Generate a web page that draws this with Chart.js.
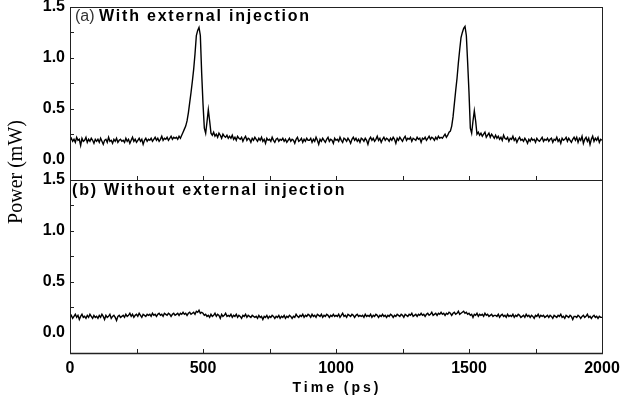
<!DOCTYPE html>
<html>
<head>
<meta charset="utf-8">
<script src="https://cdn.jsdelivr.net/npm/chart.js@4/dist/chart.umd.min.js"></script>
<style>
  html, body { margin: 0; padding: 0; background: #fff; }
  canvas { display: block; }
</style>
</head>
<body>
<canvas id="chart" width="629" height="397"></canvas>
<script>
// sampling grid of the traces (ps between samples, starting at 0 ps)
const timeStep = 5;

// (a) with external injection, mW
const powerA = [
  0.19,0.21,0.18,0.20,0.17,0.22,0.19,0.20,0.14,0.21,0.18,0.19,0.22,0.17,0.20,0.18,0.21,0.19,0.16,0.20,
  0.18,0.20,0.17,0.21,0.18,0.15,0.19,0.20,0.17,0.22,0.18,0.19,0.16,0.20,0.18,0.21,0.17,0.19,0.20,0.18,
  0.19,0.17,0.21,0.18,0.20,0.16,0.19,0.22,0.18,0.20,0.17,0.19,0.21,0.18,0.20,0.15,0.19,0.21,0.18,0.20,
  0.19,0.21,0.18,0.20,0.22,0.19,0.21,0.18,0.20,0.23,0.19,0.21,0.20,0.22,0.19,0.21,0.23,0.20,0.22,0.21,
  0.22,0.20,0.23,0.21,0.24,0.27,0.30,0.33,0.38,0.46,0.56,0.66,0.77,0.89,1.04,1.22,1.27,1.30,1.22,0.85,
  0.55,0.31,0.26,0.37,0.49,0.38,0.26,0.24,0.27,0.23,0.25,0.22,0.26,0.24,0.21,0.25,0.23,0.22,0.24,0.21,
  0.23,0.21,0.24,0.20,0.22,0.19,0.23,0.21,0.20,0.22,0.18,0.21,0.23,0.19,0.21,0.20,0.17,0.21,0.19,0.22,
  0.20,0.18,0.21,0.19,0.22,0.18,0.20,0.16,0.21,0.19,0.20,0.18,0.22,0.19,0.17,0.20,0.21,0.18,0.20,0.19,
  0.21,0.18,0.20,0.17,0.19,0.21,0.18,0.20,0.19,0.16,0.20,0.22,0.18,0.19,0.21,0.17,0.20,0.18,0.21,0.19,
  0.19,0.21,0.17,0.20,0.18,0.22,0.19,0.15,0.20,0.18,0.21,0.19,0.17,0.20,0.22,0.18,0.20,0.19,0.16,0.21,
  0.19,0.20,0.18,0.22,0.19,0.17,0.21,0.20,0.18,0.21,0.19,0.16,0.20,0.22,0.19,0.21,0.18,0.20,0.17,0.21,
  0.20,0.18,0.21,0.19,0.15,0.20,0.22,0.19,0.21,0.18,0.20,0.23,0.19,0.21,0.17,0.20,0.22,0.19,0.21,0.20,
  0.18,0.21,0.19,0.22,0.20,0.16,0.21,0.19,0.22,0.20,0.18,0.21,0.23,0.19,0.21,0.20,0.22,0.18,0.21,0.20,
  0.19,0.22,0.20,0.21,0.17,0.21,0.20,0.22,0.19,0.21,0.23,0.20,0.22,0.21,0.19,0.22,0.20,0.23,0.21,0.22,
  0.21,0.23,0.25,0.22,0.24,0.27,0.28,0.33,0.42,0.55,0.68,0.80,0.95,1.08,1.20,1.25,1.29,1.31,1.22,0.95,
  0.66,0.31,0.26,0.38,0.48,0.38,0.25,0.27,0.24,0.26,0.23,0.25,0.27,0.22,0.24,0.26,0.22,0.25,0.23,0.21,
  0.24,0.21,0.23,0.20,0.22,0.19,0.24,0.21,0.20,0.22,0.18,0.21,0.20,0.23,0.19,0.21,0.17,0.20,0.22,0.19,
  0.20,0.18,0.21,0.19,0.16,0.20,0.18,0.21,0.19,0.20,0.17,0.21,0.19,0.18,0.20,0.22,0.18,0.20,0.19,0.21,
  0.18,0.20,0.21,0.17,0.20,0.19,0.22,0.18,0.20,0.16,0.21,0.19,0.20,0.22,0.18,0.21,0.19,0.17,0.20,0.22,
  0.19,0.22,0.17,0.21,0.19,0.23,0.16,0.20,0.22,0.18,0.21,0.15,0.20,0.23,0.18,0.21,0.19,0.22,0.17,0.20,
  0.19
];

// (b) without external injection, mW
const powerB = [
  0.15,0.17,0.14,0.16,0.18,0.15,0.17,0.13,0.16,0.18,0.15,0.16,0.14,0.17,0.15,0.18,0.16,0.14,0.17,0.15,
  0.16,0.14,0.17,0.15,0.18,0.16,0.13,0.17,0.15,0.16,0.18,0.14,0.16,0.17,0.15,0.12,0.16,0.17,0.15,0.16,
  0.17,0.15,0.18,0.16,0.17,0.19,0.16,0.18,0.15,0.17,0.18,0.16,0.19,0.17,0.15,0.18,0.17,0.16,0.18,0.17,
  0.18,0.16,0.19,0.17,0.18,0.16,0.18,0.19,0.17,0.18,0.16,0.19,0.18,0.17,0.19,0.18,0.16,0.18,0.19,0.17,
  0.18,0.19,0.17,0.19,0.18,0.20,0.18,0.19,0.17,0.19,0.20,0.18,0.19,0.20,0.18,0.21,0.20,0.22,0.19,0.20,
  0.19,0.17,0.18,0.16,0.17,0.15,0.18,0.16,0.17,0.19,0.16,0.18,0.17,0.14,0.18,0.16,0.17,0.19,0.16,0.17,
  0.16,0.18,0.15,0.17,0.16,0.18,0.15,0.17,0.16,0.14,0.17,0.16,0.18,0.15,0.17,0.16,0.15,0.17,0.16,0.15,
  0.16,0.14,0.17,0.15,0.16,0.13,0.16,0.15,0.17,0.14,0.16,0.15,0.17,0.16,0.14,0.16,0.15,0.17,0.14,0.16,
  0.15,0.17,0.14,0.16,0.15,0.17,0.16,0.14,0.16,0.15,0.18,0.16,0.15,0.17,0.16,0.18,0.15,0.17,0.16,0.18,
  0.17,0.15,0.18,0.16,0.17,0.15,0.18,0.17,0.16,0.18,0.15,0.17,0.16,0.18,0.17,0.15,0.17,0.16,0.18,0.16,
  0.17,0.16,0.18,0.15,0.17,0.19,0.16,0.17,0.15,0.18,0.17,0.16,0.18,0.17,0.15,0.17,0.18,0.16,0.17,0.16,
  0.17,0.15,0.18,0.16,0.17,0.16,0.18,0.15,0.17,0.16,0.18,0.17,0.15,0.17,0.16,0.18,0.16,0.17,0.15,0.17,
  0.16,0.18,0.17,0.15,0.17,0.16,0.18,0.17,0.16,0.18,0.17,0.15,0.18,0.17,0.16,0.18,0.17,0.19,0.16,0.17,
  0.18,0.16,0.18,0.17,0.19,0.17,0.18,0.16,0.18,0.19,0.17,0.18,0.20,0.17,0.18,0.19,0.17,0.19,0.18,0.20,
  0.18,0.19,0.17,0.19,0.18,0.20,0.19,0.17,0.19,0.20,0.18,0.19,0.21,0.18,0.19,0.20,0.21,0.19,0.20,0.18,
  0.19,0.17,0.18,0.15,0.18,0.17,0.19,0.16,0.18,0.17,0.18,0.16,0.19,0.17,0.18,0.16,0.17,0.18,0.16,0.17,
  0.17,0.16,0.18,0.15,0.17,0.18,0.16,0.17,0.15,0.18,0.16,0.17,0.16,0.18,0.15,0.17,0.16,0.18,0.17,0.15,
  0.16,0.17,0.15,0.18,0.16,0.17,0.15,0.17,0.16,0.14,0.17,0.16,0.18,0.15,0.17,0.16,0.17,0.15,0.16,0.17,
  0.15,0.17,0.16,0.14,0.17,0.16,0.15,0.17,0.16,0.18,0.15,0.16,0.14,0.17,0.16,0.15,0.17,0.16,0.13,0.16,
  0.16,0.15,0.17,0.16,0.14,0.16,0.17,0.15,0.16,0.18,0.15,0.16,0.14,0.16,0.17,0.15,0.16,0.14,0.16,0.15,
  0.15
];

const xTicks = [0, 500, 1000, 1500, 2000];
const xMinorTicks = [250, 500, 750, 1000, 1250, 1500, 1750];
const yTicks = [0, 0.5, 1.0, 1.5];
const yMinorTicks = [0.25, 0.5, 0.75, 1.0, 1.25];
const labelA = ['(a)', 'With external injection'];
const labelB = '(b) Without external injection';
const xTitle = 'Time (ps)';
const yTitle = 'Power (mW)';

const toPoints = arr => arr.map((v, i) => ({ x: i * timeStep, y: v }));

const sans = '"Liberation Sans", Arial, sans-serif';
const tickFont = { family: sans, size: 16, weight: 'bold' };

function yScale(ticks) {
  return {
    type: 'linear',
    position: 'left',
    stack: 'panels',
    stackWeight: 1,
    min: -0.2,
    max: 1.5,
    grid: { display: false, drawTicks: false },
    border: { display: false },
    ticks: {
      font: tickFont, color: '#000', padding: 5, autoSkip: false,
      callback: v => v.toFixed(1)
    },
    afterBuildTicks: s => { s.ticks = ticks.map(v => ({ value: v })); },
    afterFit: s => { s.width = 70; s.paddingTop = 0; s.paddingBottom = 0; }
  };
}

// panel boxes, inward ticks and all free text
const framePlugin = {
  id: 'frame',
  afterDraw(chart) {
    const ctx = chart.ctx;
    const { left, right } = chart.chartArea;
    const x = chart.scales.x;
    const panels = [chart.scales.ya, chart.scales.yb];
    ctx.save();
    ctx.strokeStyle = '#222';
    ctx.lineWidth = 1;
    panels.forEach(p => {
      ctx.strokeRect(left + 0.5, p.top + 0.5, right - left, p.bottom - p.top);
      ctx.beginPath();
      xMinorTicks.forEach(v => {
        const px = Math.round(x.getPixelForValue(v)) + 0.5;
        ctx.moveTo(px, p.bottom); ctx.lineTo(px, p.bottom - 4);
      });
      yMinorTicks.forEach(v => {
        const py = Math.round(p.getPixelForValue(v)) + 0.5;
        ctx.moveTo(left, py); ctx.lineTo(left + 4, py);
      });
      ctx.stroke();
    });
    // heavier bottom axis line
    ctx.lineWidth = 1.6;
    ctx.beginPath();
    ctx.moveTo(left, chart.scales.yb.bottom + 0.5); ctx.lineTo(right + 1, chart.scales.yb.bottom + 0.5);
    ctx.stroke();

    ctx.textBaseline = 'alphabetic';
    // panel labels
    ctx.font = '16px ' + sans;
    ctx.fillStyle = '#333';
    ctx.fillText(labelA[0], left + 5, panels[0].top + 14);
    ctx.fillStyle = '#000';
    ctx.font = 'bold 16px ' + sans;
    ctx.letterSpacing = '1.8px';
    ctx.fillText(labelA[1], left + 29, panels[0].top + 14);
    ctx.fillText(labelB, left + 2, panels[1].top + 15);
    // x title
    ctx.font = 'bold 14px ' + sans;
    ctx.letterSpacing = '3px';
    ctx.textAlign = 'center';
    ctx.fillText(xTitle, (left + right) / 2 + 1, 392);
    // y title
    ctx.letterSpacing = '0px';
    ctx.font = '20px "Liberation Serif", "Times New Roman", serif';
    ctx.translate(22, 172);
    ctx.rotate(-Math.PI / 2);
    ctx.fillText(yTitle, 0, 0);
    ctx.restore();
  }
};

new Chart(document.getElementById('chart'), {
  type: 'line',
  data: {
    datasets: [
      { label: 'a', data: toPoints(powerA), yAxisID: 'ya', borderColor: '#000', borderWidth: 1.4, pointRadius: 0, tension: 0 },
      { label: 'b', data: toPoints(powerB), yAxisID: 'yb', borderColor: '#000', borderWidth: 1.4, pointRadius: 0, tension: 0 }
    ]
  },
  options: {
    responsive: false,
    animation: false,
    layout: { padding: { left: 0, right: 27, top: 7, bottom: 0 } },
    plugins: { legend: { display: false }, tooltip: { enabled: false } },
    scales: {
      x: {
        type: 'linear',
        min: 0, max: 2000,
        grid: { display: false, drawTicks: false },
        border: { display: false },
        ticks: { font: tickFont, color: '#000', padding: 6, autoSkip: false, maxRotation: 0, callback: v => String(v) },
        afterBuildTicks: s => { s.ticks = xTicks.map(v => ({ value: v })); },
        afterFit: s => { s.height = 44; }
      },
      yb: yScale(yTicks),
      ya: yScale(yTicks)
    }
  },
  plugins: [framePlugin]
});
</script>
</body>
</html>
